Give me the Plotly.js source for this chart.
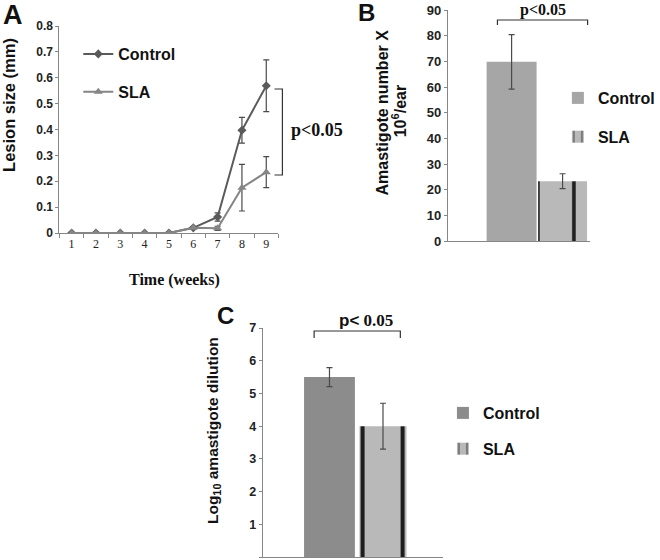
<!DOCTYPE html>
<html>
<head>
<meta charset="utf-8">
<script src="https://cdn.plot.ly/plotly-3.0.1.min.js"></script>
<style>html,body{margin:0;padding:0;background:#fff;}#chart{width:660px;height:560px;}</style>
</head>
<body>
<div id="chart"></div>
<script>
// ---- Data ----
const weeks = ['1','2','3','4','5','6','7','8','9'];
const ctrlLesion    = [0, 0, 0, 0, 0, 0.02, 0.062, 0.397, 0.569];
const ctrlLesionErr = [0, 0, 0, 0, 0, 0.005, 0.016, 0.05, 0.10];
const slaLesion     = [0, 0, 0, 0, 0, 0.02, 0.018, 0.175, 0.235];
const slaLesionErr  = [0, 0, 0, 0, 0, 0, 0.008, 0.09, 0.06];

const groupsB = ['Control', 'SLA'];
const amastigoteNum    = [69.8, 23.3];
const amastigoteNumErr = [10.6, 2.9];

const groupsC = ['Control', 'SLA'];
const logDilution    = [5.5, 4.0];
const logDilutionErr = [0.29, 0.7];

// ---- Helpers ----
const W = 660, H = 560;
const px = x => x / W;
const py = y => 1 - y / H;
const SANS = 'Liberation Sans, Arial, sans-serif';
const SERIF = 'Liberation Serif, Times New Roman, serif';
const axisCol = '#868686';
const errCol = '#4a4a4a';

const stripes = size => ({shape: '|', fgcolor: '#1e1e1e', bgcolor: '#b9b9b9', size: size, solidity: 0.1});

const traces = [
  {type: 'scatter', mode: 'lines+markers', name: 'Control', x: weeks, y: ctrlLesion,
   xaxis: 'x', yaxis: 'y', legend: 'legend', legendgroup: 'a1',
   line: {color: '#5a5a5a', width: 2}, marker: {symbol: 'diamond', size: 7, color: '#5a5a5a'},
   error_y: {type: 'data', array: ctrlLesionErr, color: errCol, thickness: 1.2, width: 3}},
  {type: 'scatter', mode: 'lines+markers', name: 'SLA', x: weeks, y: slaLesion,
   xaxis: 'x', yaxis: 'y', legend: 'legend', legendgroup: 'a2',
   line: {color: '#858585', width: 2}, marker: {symbol: 'triangle-up', size: 8, color: '#858585'},
   error_y: {type: 'data', array: slaLesionErr, color: errCol, thickness: 1.2, width: 3}},

  {type: 'bar', name: groupsB[0], x: [groupsB[0]], y: [amastigoteNum[0]], width: 0.98,
   xaxis: 'x2', yaxis: 'y2', legend: 'legend2', legendgroup: 'b1',
   marker: {color: '#a6a6a6', line: {width: 0}},
   error_y: {type: 'data', array: [amastigoteNumErr[0]], color: errCol, thickness: 1.2, width: 3}},
  {type: 'bar', name: groupsB[1], x: [groupsB[1]], y: [amastigoteNum[1]], width: 0.96,
   xaxis: 'x2', yaxis: 'y2', legend: 'legend2', legendgroup: 'b2',
   marker: {color: '#b9b9b9', pattern: stripes(36), line: {width: 0}},
   error_y: {type: 'data', array: [amastigoteNumErr[1]], color: errCol, thickness: 1.2, width: 3}},

  {type: 'bar', name: groupsC[0], x: [groupsC[0]], y: [logDilution[0]], width: 0.95,
   xaxis: 'x3', yaxis: 'y3', legend: 'legend3', legendgroup: 'c1',
   marker: {color: '#8c8c8c', line: {width: 0}},
   error_y: {type: 'data', array: [logDilutionErr[0]], color: errCol, thickness: 1.2, width: 3}},
  {type: 'bar', name: groupsC[1], x: [groupsC[1]], y: [logDilution[1]], width: 0.88,
   xaxis: 'x3', yaxis: 'y3', legend: 'legend3', legendgroup: 'c2',
   marker: {color: '#b9b9b9', pattern: stripes(40), line: {width: 0}},
   error_y: {type: 'data', array: [logDilutionErr[1]], color: errCol, thickness: 1.2, width: 3}}
];

const baseAxis = {showgrid: false, zeroline: false, showline: true, linecolor: axisCol, linewidth: 1,
  ticks: 'outside', ticklen: 3, tickcolor: axisCol, fixedrange: true};
const yTickFont = {family: SANS, size: 12, color: '#222', weight: 700};

const legendFont = {family: SANS, size: 16, color: '#111', weight: 700};

function label(text, x, y, font, extra) {
  return Object.assign({text: text, x: px(x), y: py(y), xref: 'paper', yref: 'paper',
    xanchor: 'center', yanchor: 'middle', showarrow: false, font: font}, extra || {});
}

const layout = {
  width: W, height: H,
  margin: {l: 0, r: 0, t: 0, b: 0},
  paper_bgcolor: '#fff', plot_bgcolor: 'rgba(0,0,0,0)',
  barmode: 'overlay',
  xaxis: Object.assign({}, baseAxis, {domain: [px(60), px(281)], anchor: 'y', type: 'category',
    tickson: 'boundaries', range: [-0.5, 8.5], ticklen: 4,
    tickfont: {family: SERIF, size: 12, color: '#222'}}),
  yaxis: Object.assign({}, baseAxis, {domain: [py(233), py(26)], anchor: 'x', range: [0, 0.8],
    dtick: 0.1, tickfont: yTickFont}),

  xaxis2: Object.assign({}, baseAxis, {domain: [px(452), px(595)], anchor: 'y2', type: 'category',
    range: [-1.25, 1.53], ticks: '', showticklabels: false}),
  yaxis2: Object.assign({}, baseAxis, {domain: [py(241), py(10)], anchor: 'x2', range: [0, 90],
    dtick: 10, tickfont: Object.assign({}, yTickFont, {size: 13})}),

  xaxis3: Object.assign({}, baseAxis, {domain: [px(265), px(447)], anchor: 'y3', type: 'category',
    range: [-1.25, 2.12], ticks: '', showticklabels: false}),
  yaxis3: Object.assign({}, baseAxis, {domain: [py(557), py(328)], anchor: 'x3', range: [0, 7],
    dtick: 1, tickfont: Object.assign({}, yTickFont, {size: 12.5})}),

  legend: {x: px(79), y: py(37), xanchor: 'left', yanchor: 'top', bgcolor: 'rgba(0,0,0,0)',
    font: legendFont, tracegroupgap: 14, borderwidth: 0},
  legend2: {x: px(563), y: py(81), xanchor: 'left', yanchor: 'top', bgcolor: 'rgba(0,0,0,0)',
    font: legendFont, tracegroupgap: 15, borderwidth: 0},
  legend3: {x: px(447), y: py(396), xanchor: 'left', yanchor: 'top', bgcolor: 'rgba(0,0,0,0)',
    font: legendFont, tracegroupgap: 12, borderwidth: 0},

  shapes: [
    {type: 'path', xref: 'paper', yref: 'paper',
     path: `M ${px(277)},${py(89)} L ${px(285)},${py(89)} L ${px(285)},${py(175)} L ${px(277)},${py(175)}`,
     line: {color: '#333', width: 1.2}},
    {type: 'path', xref: 'paper', yref: 'paper',
     path: `M ${px(502)},${py(25)} L ${px(502)},${py(20)} L ${px(593)},${py(20)} L ${px(593)},${py(25)}`,
     line: {color: '#333', width: 1.2}},
    {type: 'path', xref: 'paper', yref: 'paper',
     path: `M ${px(317)},${py(338)} L ${px(317)},${py(331)} L ${px(404)},${py(331)} L ${px(404)},${py(338)}`,
     line: {color: '#333', width: 1.2}}
  ],

  annotations: [
    label('A', 13, 15, {family: SANS, size: 27, color: '#111', weight: 700}),
    label('B', 370, 12, {family: SANS, size: 24, color: '#111', weight: 700}),
    label('C', 228, 315, {family: SANS, size: 24, color: '#111', weight: 700}),

    label('Lesion size (mm)', 9, 105, {family: SANS, size: 16.5, color: '#111', weight: 700}, {textangle: -90}),
    label('Time (weeks)', 176, 280, {family: SERIF, size: 16, color: '#111', weight: 700}),
    label('Amastigote number X', 387, 112, {family: SANS, size: 16, color: '#111', weight: 700}, {textangle: -90}),
    label('10<sup>6</sup>/ear', 403, 111, {family: SANS, size: 16, color: '#111', weight: 700}, {textangle: -90}),
    label('Log<sub>10</sub> amastigote dilution', 215, 431, {family: SANS, size: 15.5, color: '#111', weight: 700}, {textangle: -90}),

    label('p&lt;0.05', 292, 130, {family: SERIF, size: 18, color: '#111', weight: 700}, {xanchor: 'left'}),
    label('p&lt;0.05', 548, 10, {family: SERIF, size: 16, color: '#111', weight: 700}),
    label('<span style="font-family:Liberation Sans">p&lt;</span> 0.05', 369, 320, {family: SERIF, size: 17, color: '#111', weight: 700})
  ]
};

Plotly.newPlot('chart', traces, layout, {staticPlot: true, displayModeBar: false});
</script>
</body>
</html>
